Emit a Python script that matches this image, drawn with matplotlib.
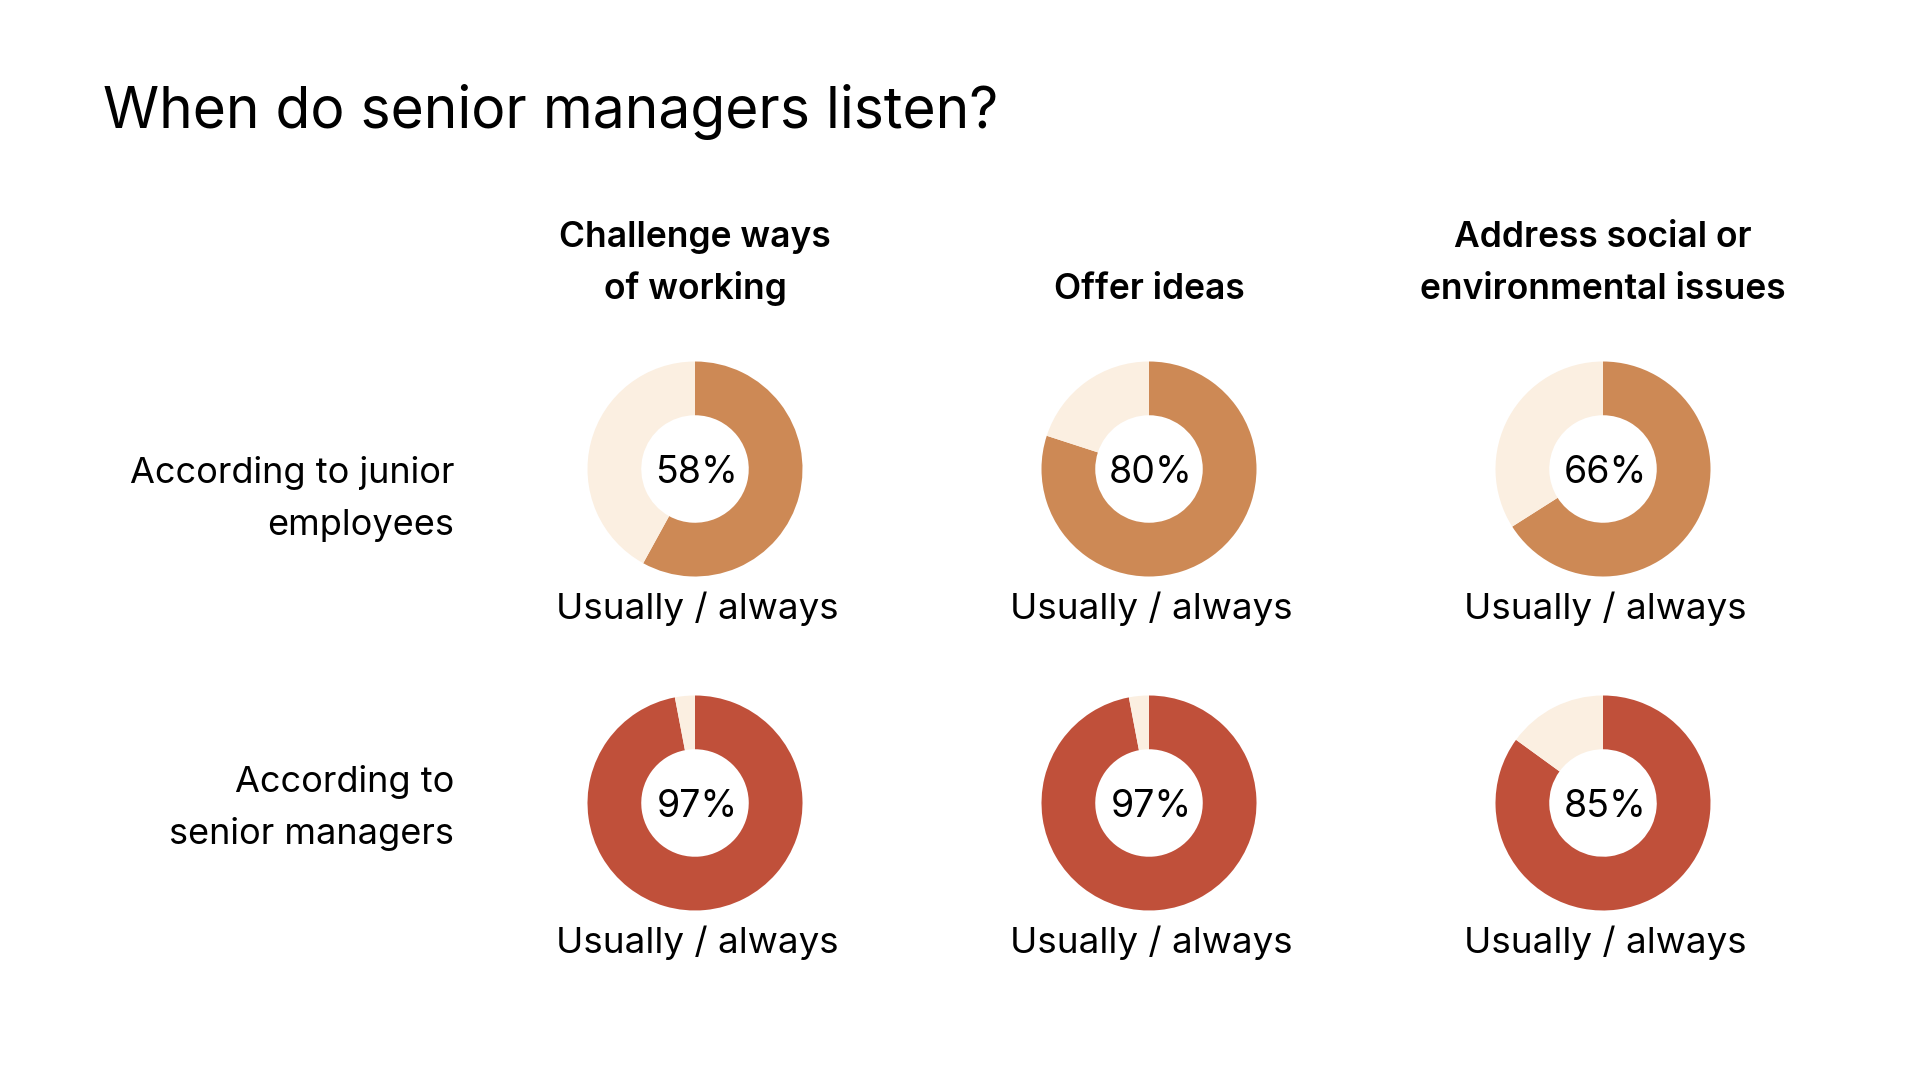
import matplotlib
matplotlib.use("Agg")
import matplotlib.pyplot as plt

plt.rcParams["font.family"] = ["Inter", "DejaVu Sans"]

title = "When do senior managers listen?"
topics = ["Challenge ways\nof working", "Offer ideas", "Address social or\nenvironmental issues"]
groups = ["According to junior\nemployees", "According to\nsenior managers"]
junior = [58, 80, 66]
senior = [97, 97, 85]
caption = "Usually / always"

orange = "#CD8955"
red = "#C0503A"
cream = "#FBEFE1"

W, H = 1920, 1080
fig = plt.figure(figsize=(W / 100, H / 100), dpi=100)


def fx(x):
    return x / W


def fy(y):
    return 1 - y / H


col_x = [695, 1149, 1603]
row_y = [469, 803]
label_base = [483, 792]
r = 107.5

fig.text(fx(103), fy(128), title, fontsize=41, va="baseline", ha="left")

for cx, t in zip(col_x, topics):
    lines = t.split("\n")
    base = 299 - 52 * (len(lines) - 1)
    for k, ln in enumerate(lines):
        fig.text(fx(cx), fy(base + 52 * k), ln, fontsize=25.5, fontweight="semibold",
                 ha="center", va="baseline")

for lb, g in zip(label_base, groups):
    for k, ln in enumerate(g.split("\n")):
        fig.text(fx(454), fy(lb + 52 * k), ln, fontsize=26,
                 ha="right", va="baseline")

for row, (vals, col) in enumerate([(junior, orange), (senior, red)]):
    cy = row_y[row]
    for cx, v in zip(col_x, vals):
        ax = fig.add_axes([fx(cx - r), fy(cy + r), 2 * r / W, 2 * r / H])
        ax.pie([v, 100 - v], colors=[col, cream], startangle=90,
               counterclock=False, radius=1,
               wedgeprops=dict(width=0.5, linewidth=0))
        ax.set_xlim(-1, 1)
        ax.set_ylim(-1, 1)
        ax.axis("off")
        fig.text(fx(cx + 2), fy(cy + 14), f"{v}%", fontsize=27,
                 ha="center", va="baseline")
        fig.text(fx(cx + 2), fy(cy + 150), caption, fontsize=26.5,
                 ha="center", va="baseline")

fig.savefig("out.png", dpi=100, facecolor="white")
